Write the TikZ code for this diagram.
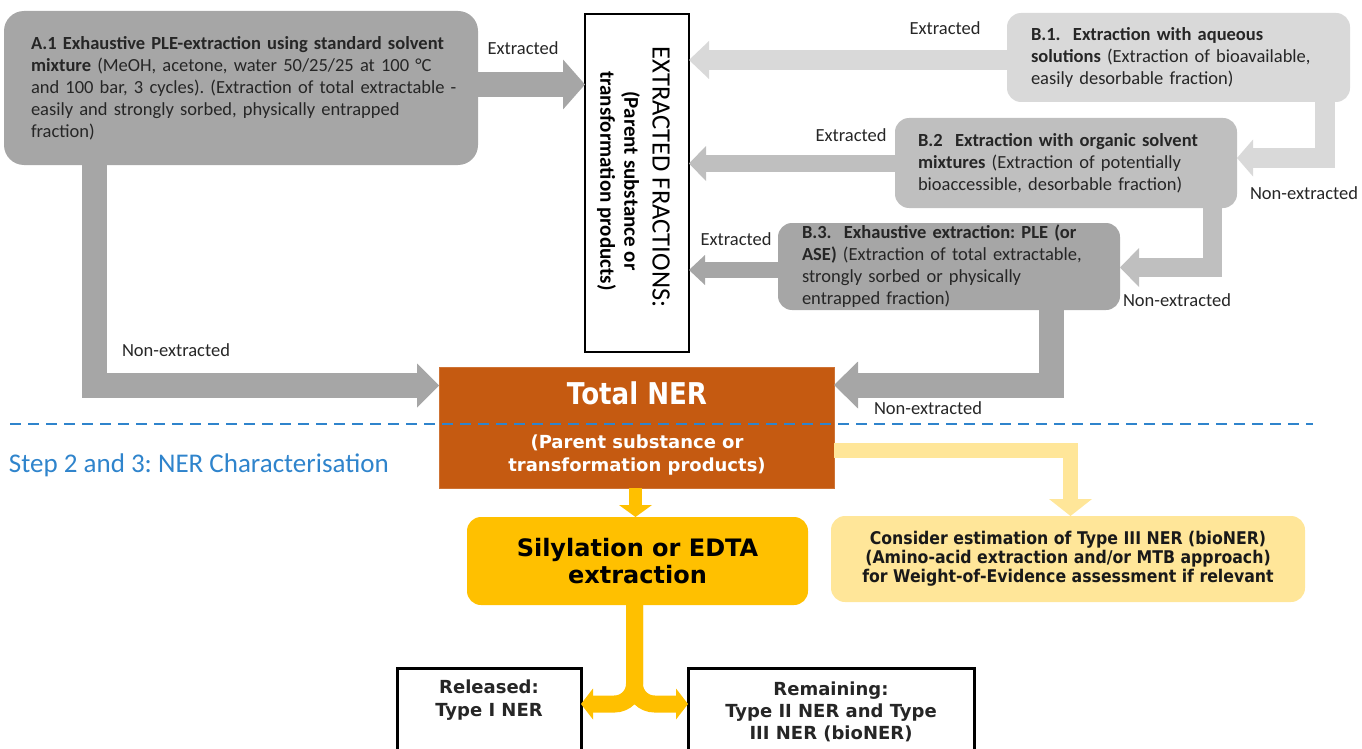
\documentclass[tikz,border=0pt]{standalone}
\usepackage{fontspec}
\setmainfont{Carlito}
\newfontfamily\dvfont{DejaVu Sans}
\newfontfamily\dvnarrow[FakeStretch=0.87]{DejaVu Sans}
\newfontfamily\dvslim[FakeStretch=0.9]{DejaVu Sans}
\usetikzlibrary{arrows.meta,calc}
\frenchspacing

\definecolor{gA}{HTML}{A6A6A6}
\definecolor{gB}{HTML}{BFBFBF}
\definecolor{gC}{HTML}{D9D9D9}
\definecolor{nerorange}{HTML}{C55A11}
\definecolor{gold}{HTML}{FFC000}
\definecolor{paleyellow}{HTML}{FFE699}
\definecolor{stepblue}{HTML}{2F84CC}
\definecolor{ink}{HTML}{262626}

\begin{document}
\begin{tikzpicture}[x=1pt,y=-1pt,
  every node/.style={inner sep=0pt, outer sep=0pt},
  lbl/.style={font=\fontsize{18.5}{22}\selectfont, text=ink},
  stepbox/.style={rounded corners=#1, anchor=north west, align=left, text=ink,
                  font=\fontsize{18.5}{22}\selectfont},
  fatarrow/.style n args={3}{line width=#1pt,
                  -{Triangle[length=#2pt,width=#3pt,line width=0pt]}},
]
\useasboundingbox (0,0) rectangle (1362,749);
\clip (0,0) rectangle (1362,749);

% ---- step 1: extraction boxes ----
\node[stepbox=20pt, fill=gA, minimum width=474pt, minimum height=154pt,
      text width=420pt, inner xsep=27pt] (A1) at (4,11)
  {\mbox{\textbf{A.1 Exhaustive PLE-extraction using standard solvent}}\\
   \mbox{\textbf{mixture} (MeOH, acetone, water 50/25/25 at 100 °C}\\
   \mbox{and 100 bar, 3 cycles). (Extraction of total extractable -}\\
   \mbox{easily and strongly sorbed, physically entrapped}\\
   \mbox{fraction)}};

\node[stepbox=14pt, fill=gC, minimum width=343pt, minimum height=89pt,
      text width=295pt, inner xsep=24pt] (B1) at (1007,13)
  {\textbf{B.1.\ \ Extraction with aqueous}\\
   \textbf{solutions} (Extraction of bioavailable,\\
   easily desorbable fraction)};

\node[stepbox=14pt, fill=gB, minimum width=342pt, minimum height=90pt,
      text width=296pt, inner xsep=23pt] (B2) at (895,118)
  {\textbf{B.2\ \ Extraction with organic solvent}\\
   \textbf{mixtures} (Extraction of potentially\\
   bioaccessible, desorbable fraction)};

\node[stepbox=14pt, fill=gA, minimum width=342pt, minimum height=87pt,
      text width=294pt, inner xsep=24pt] (B3) at (778,223)
  {\textbf{B.3.\ \ Exhaustive extraction: PLE (or}\\
   \textbf{ASE)} (Extraction of total extractable,\\
   strongly sorbed or physically\\
   entrapped fraction)};

% ---- extracted fractions column ----
\node[draw=black, line width=1.2pt, fill=white, minimum width=104pt,
      minimum height=338pt, anchor=north west] (EF) at (585,14) {};
\node[rotate=-90, font=\fontsize{26.5}{30}\selectfont, text=black]
  (EFtitle) at (661,177) {EXTRACTED FRACTIONS:};
\node[rotate=-90, align=center, font=\bfseries\fontsize{21}{24}\selectfont, text=black]
  (EFsub) at (618.5,181) {(Parent substance or\\transformation products)};

% ---- total NER ----
\node[fill=nerorange, draw=nerorange!85!white, line width=0.8pt,
      minimum width=395pt, minimum height=121pt, anchor=north west] (NER) at (439,367) {};
\node[font=\dvnarrow\bfseries\fontsize{30}{34}\selectfont, text=white]
  (NERtitle) at (637,393) {Total NER};
\node[align=center, font=\dvfont\bfseries\fontsize{18}{23}\selectfont, text=white]
  (NERsub) at (637,455.5) {(Parent substance or\\transformation products)};

% ---- step 2 and 3 boxes ----
\node[fill=gold, rounded corners=14pt, minimum width=341pt, minimum height=88pt,
      anchor=north west, align=center, text=black,
      font=\dvfont\bfseries\fontsize{24}{27}\selectfont] (SIL) at (467,517)
  {Silylation or EDTA\\extraction};

\node[fill=paleyellow, rounded corners=14pt, minimum width=474pt, minimum height=86pt,
      anchor=north west, align=center, text=black!90,
      font=\dvslim\bfseries\fontsize{17.5}{19}\selectfont] (BIO) at (831,516)
  {Consider estimation of Type III NER (bioNER)\\
   (Amino-acid extraction and/or MTB approach)\\
   for Weight-of-Evidence assessment if relevant};

\node[draw=black, line width=3pt, fill=white, minimum width=184pt,
      minimum height=100pt, anchor=north west] (REL) at (397,668) {};
\node[align=center, font=\dvfont\bfseries\fontsize{18}{23}\selectfont, text=ink]
  (RELtext) at (489,700) {Released:\\Type I NER};

\node[draw=black, line width=3pt, fill=white, minimum width=286pt,
      minimum height=100pt, anchor=north west] (REM) at (688,668) {};
\node[align=center, font=\dvfont\bfseries\fontsize{18}{22}\selectfont, text=ink]
  (REMtext) at (831,711.5) {Remaining:\\Type II NER and Type\\III NER (bioNER)};

% ---- connectors ----
\draw[fatarrow={25}{22}{50}, draw=gA]
  ($(A1.north east)+(0,73.5)$) -- ($(EF.north west)+(0,70.5)$);
\draw[fatarrow={25}{22}{44}, draw=gA]
  ($(A1.south west)+(90.5,0)$) |- ($(NER.north west)+(0,18.5)$);

\draw[fatarrow={20}{20}{38}, draw=gC]
  ($(B1.north west)+(0,47)$) -- ($(EF.north east)+(0,46)$);
\draw[fatarrow={20}{16}{37}, draw=gC]
  ($(B1.south east)+(-25,0)$) |- ($(B2.north east)+(0,40)$);

\draw[fatarrow={17}{17}{35}, draw=gB]
  ($(B2.north west)+(0,45.5)$) -- ($(EF.north east)+(0,149.5)$);
\draw[fatarrow={19}{19}{39}, draw=gB]
  ($(B2.south east)+(-25,0)$) |- ($(B3.north east)+(0,44.5)$);

\draw[fatarrow={16}{16}{30}, draw=gA]
  ($(B3.north west)+(0,47)$) -- ($(EF.north east)+(0,256)$);
\draw[fatarrow={25}{24}{47}, draw=gA]
  ($(B3.south west)+(273.5,0)$) |- ($(NER.north east)+(0,18)$);

\draw[fatarrow={15}{17}{43}, draw=paleyellow]
  ($(NER.north east)+(0,83.5)$) -| ($(BIO.north west)+(239.5,0)$);
\draw[fatarrow={13}{12}{33}, draw=gold]
  ($(NER.south west)+(196.5,0)$) -- ($(SIL.north west)+(168.5,0)$);

\draw[fatarrow={17}{12}{31}, draw=gold, rounded corners=20pt]
  ($(SIL.south west)+(167.5,0)$) |- ($(REL.north east)+(0,36)$);
\draw[fatarrow={17}{12}{31}, draw=gold, rounded corners=20pt]
  ($(SIL.south west)+(167.5,0)$) |- ($(REM.north west)+(0,36)$);

% ---- connector labels ----
\node[lbl] (lA1x) at (523,48) {Extracted};
\node[lbl] (lB1x) at (945,28) {Extracted};
\node[lbl] (lB2x) at (851,135) {Extracted};
\node[lbl] (lB3x) at (736,239) {Extracted};
\node[lbl] (lB1n) at (1304,193) {Non-extracted};
\node[lbl] (lB2n) at (1177,300) {Non-extracted};
\node[lbl] (lB3n) at (928,408) {Non-extracted};
\node[lbl] (lA1n) at (176,350) {Non-extracted};

% ---- phase separator ----
\coordinate (sepL) at (10,424);
\coordinate (sepR) at (1313,424);
\draw[stepblue, line width=2.5pt, dash pattern=on 11pt off 7pt] (sepL) -- (sepR);
\node[anchor=west, text=stepblue, font=\fontsize{27}{30}\selectfont]
  (steplabel) at (9,465) {Step 2 and 3: NER Characterisation};
\end{tikzpicture}
\end{document}
